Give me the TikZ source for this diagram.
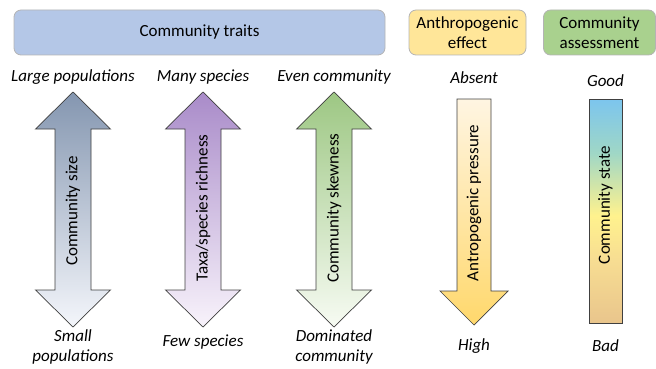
\documentclass[tikz,border=0pt]{standalone}
\usepackage{fontspec}
\setmainfont{Carlito}
\usetikzlibrary{positioning}

\definecolor{traitsblue}{HTML}{B4C7E7}
\definecolor{effectyellow}{HTML}{FFE699}
\definecolor{assessgreen}{HTML}{A9D18E}
\definecolor{boxborder}{HTML}{B4B4B4}
\definecolor{sizetop}{HTML}{8496B0}
\definecolor{sizebot}{HTML}{F4F6FB}
\definecolor{richtop}{HTML}{A98BC9}
\definecolor{richbot}{HTML}{F8F3FB}
\definecolor{skewtop}{HTML}{9DC783}
\definecolor{skewbot}{HTML}{F7FBF3}
\definecolor{presstop}{HTML}{FFF5E2}
\definecolor{pressbot}{HTML}{FFD86C}
\definecolor{statetan}{HTML}{E9C58C}
\definecolor{statelight}{HTML}{F7DD92}
\definecolor{stateyellow}{HTML}{FFF28E}
\definecolor{stateteal}{HTML}{9FD7C6}
\definecolor{stateblue}{HTML}{7CC5EE}

\pgfdeclareverticalshading{statebar}{100bp}{%
  color(0bp)=(statetan);
  color(25bp)=(statetan);
  color(39bp)=(statelight);
  color(49bp)=(stateyellow);
  color(63bp)=(stateteal);
  color(75bp)=(stateblue);
  color(100bp)=(stateblue)}

\tikzset{
  header/.style={draw=boxborder, line width=0.8pt, rounded corners=7pt,
    minimum height=45pt, inner sep=1pt, align=center, font=\fontsize{17}{20}\selectfont},
  endlabel/.style={font=\fontsize{17}{20}\selectfont\itshape, align=center},
  axislabel/.style={rotate=90, font=\fontsize{17}{20}\selectfont},
  outline/.style={draw=black!75, line width=0.7pt}
}

\begin{document}
\begin{tikzpicture}[x=1pt, y=-1pt]

\useasboundingbox (0,0) rectangle (656,369);

\def\dblarrow#1{(#1,92) -- (#1+37.5,129) -- (#1+18,129) -- (#1+18,290)
  -- (#1+37.5,290) -- (#1,327) -- (#1-37.5,290) -- (#1-18,290)
  -- (#1-18,129) -- (#1-37.5,129) -- cycle}
\def\pressarrow{(457,99) -- (491,99) -- (491,291) -- (508,291) -- (474,325)
  -- (440,291) -- (457,291) -- cycle}

% header boxes
\node[header, fill=traitsblue, minimum width=371pt] (traits) at (199.5,32.5) {Community traits};
\node[header, fill=effectyellow, minimum width=117pt] (effect) at (467.5,32.5) {Anthropogenic\\effect};
\node[header, fill=assessgreen, minimum width=112pt] (assess) at (599.5,32.5) {Community\\assessment};

% arrows
\shade[top color=sizetop, bottom color=sizebot] \dblarrow{73};
\draw[outline] \dblarrow{73};
\shade[top color=richtop, bottom color=richbot] \dblarrow{203};
\draw[outline] \dblarrow{203};
\shade[top color=skewtop, bottom color=skewbot] \dblarrow{334};
\draw[outline] \dblarrow{334};
\shade[top color=presstop, bottom color=pressbot] \pressarrow;
\draw[outline] \pressarrow;

% state bar
\shade[shading=statebar] (589,99) rectangle (622,323);
\draw[outline] (589,99) rectangle (622,323);

\node[axislabel] (size) at (73,211) {Community size};
\node[axislabel] (rich) at (203,208) {Taxa/species richness};
\node[axislabel] (skew) at (334,208) {Community skewness};
\node[axislabel] (press) at (474,203) {Antropogenic pressure};
\node[axislabel] (state) at (605.5,205) {Community state};

% end labels
\node[endlabel] (large) at (73,77) {Large populations};
\node[endlabel] (many) at (203,77) {Many species};
\node[endlabel] (even) at (334,77) {Even community};
\node[endlabel] (absent) at (474,78) {Absent};
\node[endlabel] (good) at (605.5,81) {Good};

\node[endlabel] (small) at (73,347) {Small\\populations};
\node[endlabel] (few) at (203,342) {Few species};
\node[endlabel] (dominated) at (334,347) {Dominated\\community};
\node[endlabel] (high) at (474,346) {High};
\node[endlabel] (bad) at (605.5,346) {Bad};

\end{tikzpicture}
\end{document}
